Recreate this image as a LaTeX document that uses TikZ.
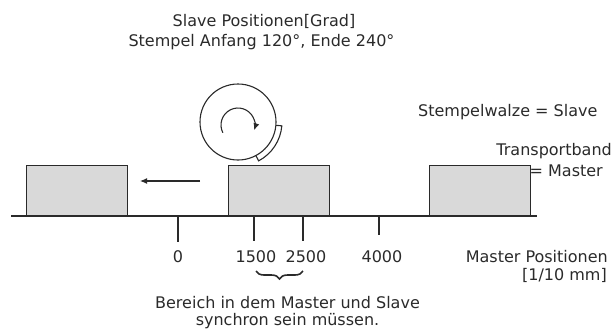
\documentclass[tikz,border=0pt]{standalone}
\usepackage{fontspec}
\setmainfont{DejaVu Sans}
\usetikzlibrary{arrows.meta,decorations.pathreplacing,calc}
\definecolor{boxfill}{HTML}{D9D9D9}
\definecolor{ink}{HTML}{2A2A2A}
\begin{document}
\begin{tikzpicture}[x=1pt,y=-1pt,
  every node/.style={font=\fontsize{16}{18}\selectfont, text=ink, inner sep=0pt},
  parcel/.style={draw=ink, line width=1.2pt, fill=boxfill, minimum width=101pt, minimum height=50pt, anchor=south west},
  line/.style={draw=ink, line width=1.1pt},
  tick/.style={draw=ink, line width=1.1pt}]
\useasboundingbox (0,0) rectangle (612,330);
% titles
\node (t1) at (264,21) {Slave Positionen[Grad]};
\node (t2) at (261.5,42) {Stempel Anfang 120°, Ende 240°};
\node[anchor=west] (slave) at (418,112) {Stempelwalze = Slave};
\node[anchor=east] (tb1) at (612,151) {Transportband};
\node[anchor=east] (tb2) at (603,171) {= Master};
% baseline
\coordinate (bl) at (11,216);
\coordinate (br) at (537,216);
\draw[line] (bl) -- (br);
% parcels
\node[parcel] (p1) at (26,216) {};
\node[parcel] (p2) at (228,216) {};
\node[parcel] (p3) at (429,216) {};
% motion arrow
\coordinate (as) at (200,181);
\coordinate (ae) at (140,181);
\draw[line, -{Latex[length=7pt,width=6pt]}] (as) -- (ae);
% roller
\coordinate (rc) at (238,122);
\draw[line] (rc) circle (38);
\draw[line] ($(rc)+(5:38)$) -- ($(rc)+(5:44)$) arc[start angle=5, end angle=62, radius=44] -- ($(rc)+(62:38)$);
\coordinate (ic) at (238,125);
\draw[line, -{Latex[length=7pt,width=6pt]}] ($(ic)+(153:17)$) arc[start angle=153, end angle=378, radius=17];
% ticks
\coordinate (k0) at (178,216);
\coordinate (k1) at (254,216);
\coordinate (k2) at (303,216);
\coordinate (k3) at (379,216);
\draw[tick] (k0) -- ++(0,26);
\draw[tick] (k1) -- ++(0,25);
\draw[tick] (k2) -- ++(0,25);
\draw[tick] (k3) -- ++(0,19);
\node (l0) at (178,257) {0};
\node (l1) at (256,257) {1500};
\node (l2) at (306,257) {2500};
\node (l3) at (382,257) {4000};
% brace
\coordinate (b1) at (256,271);
\coordinate (b2) at (303,271);
\draw[draw=ink, line width=1.6pt, decorate, decoration={brace, mirror, amplitude=8pt}] (b1) -- (b2);
\node (desc1) at (287.5,303) {Bereich in dem Master und Slave};
\node (desc2) at (287.5,321) {synchron sein müssen.};
\node[anchor=east] (mp1) at (608,257) {Master Positionen};
\node[anchor=east] (mp2) at (607,275) {[1/10 mm]};
\end{tikzpicture}
\end{document}
